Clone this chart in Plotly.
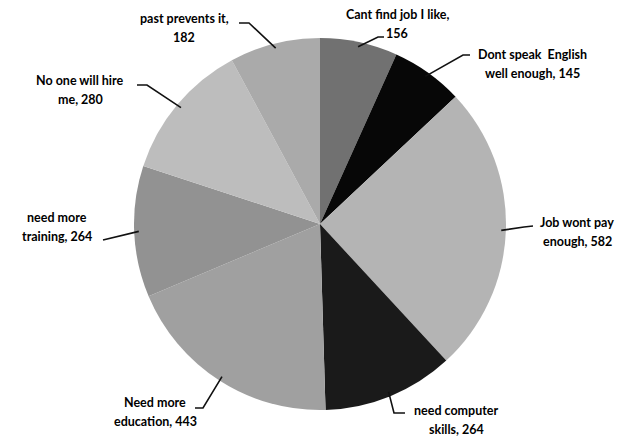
import math
import plotly.graph_objects as go

# Reasons given for not working (survey counts), clockwise from 12 o'clock.
# A "\n" marks where the label wraps; otherwise the count goes on its own line.
categories = [
    "Cant find job I like",
    "Dont speak  English\nwell enough",
    "Job wont pay\nenough",
    "need computer\nskills",
    "Need more\neducation",
    "need more\ntraining",
    "No one will hire\nme",
    "past prevents it",
]
values = [156, 145, 582, 264, 443, 264, 280, 182]

slice_colors = ["#717171", "#070707", "#b4b4b4", "#1a1a1a",
                "#a0a0a0", "#929292", "#bdbdbd", "#aaaaaa"]

# Canvas geometry (pixels)
W, H = 633, 438
M_L, M_R, M_T, M_B = 7, 0, 38, 28
PW, PH = W - M_L - M_R, H - M_T - M_B
CX, CY = M_L + PW / 2, M_T + PH / 2
R = min(PW, PH) / 2

# Label block centres and leader-line path points (text end -> elbow), pixels
label_centres = [(397, 24), (532, 64), (577, 232), (456, 420),
                 (155, 412), (57, 227), (80, 90), (184, 28)]
leader_starts = [[(384, 37), (378, 37)],
                 [(470, 55), (463, 55)],
                 [(533, 226), (524, 227)],
                 [(405, 413), (394, 413)],
                 [(195, 408), (203, 408)],
                 [(103, 240)],
                 [(137, 85), (147, 85)],
                 [(239, 23), (249, 23)]]
LINE_GAP = 18.5


def px_to_paper(px, py):
    return (px - M_L) / PW, 1 - (py - M_T) / PH


def label_lines(name, value):
    if "\n" in name:
        return f"{name}, {value}".split("\n")
    return [f"{name},", f"{value}"]


fig = go.Figure(go.Pie(
    labels=[c.replace("\n", " ") for c in categories],
    values=values,
    sort=False,
    direction="clockwise",
    rotation=0,
    textinfo="none",
    hoverinfo="label+value",
    marker=dict(colors=slice_colors, line=dict(width=0)),
    showlegend=False,
    domain=dict(x=[0, 1], y=[0, 1]),
))

total = sum(values)
cum = 0
annotations, shapes = [], []
for name, val, (lx, ly), starts in zip(categories, values, label_centres, leader_starts):
    mid = (cum + val / 2) / total * 2 * math.pi
    cum += val
    tip = (CX + 0.975 * R * math.sin(mid), CY - 0.975 * R * math.cos(mid))

    pts = [px_to_paper(*p) for p in starts + [tip]]
    path = "M " + " L ".join(f"{x:.5f},{y:.5f}" for x, y in pts)
    shapes.append(dict(type="path", xref="paper", yref="paper", path=path,
                       line=dict(color="#111111", width=1.6)))

    lines = label_lines(name, val)
    n = len(lines)
    for i, line in enumerate(lines):
        yline = ly + (i - (n - 1) / 2) * LINE_GAP
        x, y = px_to_paper(lx, yline)
        annotations.append(dict(
            x=x, y=y, xref="paper", yref="paper", text=line, showarrow=False,
            xanchor="center", yanchor="middle",
            font=dict(family="Lato", size=12.5, color="#000000", weight="bold"),
        ))

fig.update_layout(
    width=W, height=H,
    margin=dict(l=M_L, r=M_R, t=M_T, b=M_B, autoexpand=False),
    paper_bgcolor="white",
    plot_bgcolor="white",
    annotations=annotations,
    shapes=shapes,
)

fig.write_html("out.html")
